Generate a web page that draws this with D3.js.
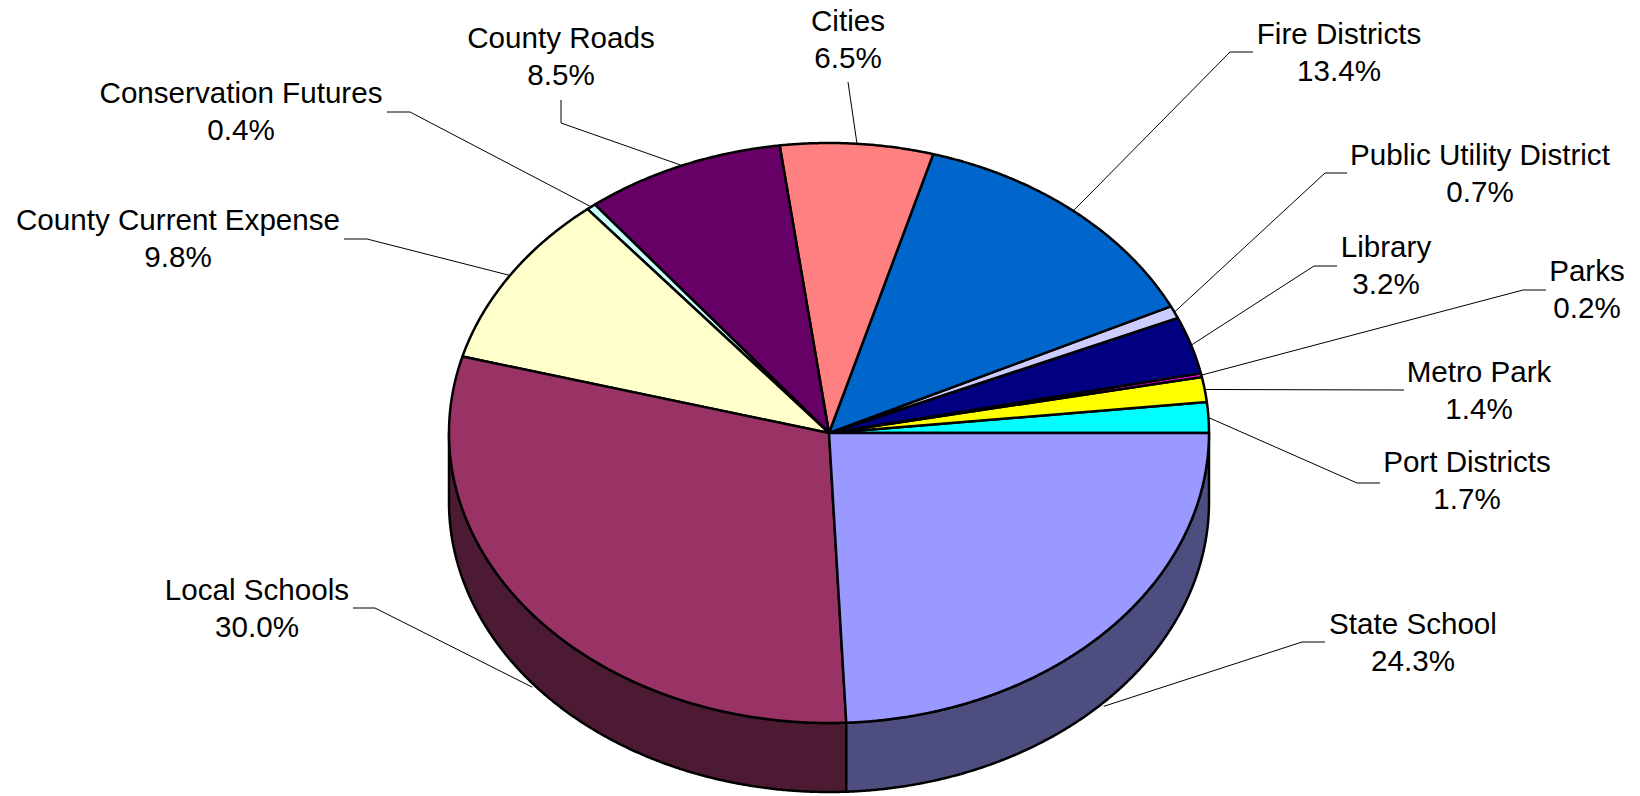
<!DOCTYPE html>
<html lang="en">
<head>
<meta charset="utf-8">
<title>Property tax distribution</title>
<script src="https://cdn.jsdelivr.net/npm/d3@7"></script>
<style>
  body { margin: 0; background: #fff; }
  text { font-family: "Liberation Sans", Arial, sans-serif; }
</style>
</head>
<body>
<script>
// slices, counter-clockwise from 3 o'clock
var categories = ["Port Districts", "Metro Park", "Parks", "Library", "Public Utility District",
                  "Fire Districts", "Cities", "County Roads", "Conservation Futures",
                  "County Current Expense", "Local Schools", "State School"];
var values = [1.7, 1.4, 0.2, 3.2, 0.7, 13.4, 6.5, 8.5, 0.4, 9.8, 30.0, 24.3];
var colors = ["#00ffff", "#ffff00", "#ff00ff", "#000080", "#ccccff", "#0066cc",
              "#ff8080", "#660066", "#ccffff", "#ffffcc", "#993366", "#9999ff"];

var width = 1640, height = 796;
var cx = 829, cy = 433, rx = 380, ry = 290, depth = 69;
var fontSize = 29.6, lineGap = 37;

// label text centre / first baseline and the elbow points of each leader
var labelPos = [
  {x: 1467, y: 472, leader: [[1380, 483], [1357, 483]]},
  {x: 1479, y: 382, leader: [[1404, 390]]},
  {x: 1587, y: 281, leader: [[1546, 290], [1523, 290]]},
  {x: 1386, y: 257, leader: [[1337, 266], [1314, 266]]},
  {x: 1480, y: 165, leader: [[1347, 173], [1325, 173]]},
  {x: 1339, y: 44,  leader: [[1253, 52], [1230, 52]]},
  {x: 848,  y: 31,  leader: [[848, 82]]},
  {x: 561,  y: 48,  leader: [[561, 100], [561, 123]]},
  {x: 241,  y: 103, leader: [[387, 112], [410, 112]]},
  {x: 178,  y: 230, leader: [[344, 239], [367, 239]]},
  {x: 257,  y: 600, leader: [[353, 608], [375, 608]]},
  {x: 1413, y: 634, leader: [[1325, 642], [1302, 642]]}
];

var svg = d3.select("body").append("svg")
    .attr("width", width)
    .attr("height", height);

var arcs = d3.pie().sort(null).startAngle(0).endAngle(2 * Math.PI)(values);

function pt(a, dz) {
  return [cx + rx * Math.cos(a), cy - ry * Math.sin(a) + (dz || 0)];
}
function arcPts(a0, a1, dz) {
  var n = Math.max(2, Math.ceil((a1 - a0) / 0.005));
  return d3.range(n + 1).map(function(i) { return pt(a0 + (a1 - a0) * i / n, dz); });
}
var line = d3.line();

// leader lines
svg.append("g").selectAll("path")
  .data(arcs)
  .enter().append("path")
  .attr("fill", "none")
  .attr("stroke", "#000")
  .attr("stroke-width", 1)
  .attr("d", function(d, i) {
    var mid = (d.startAngle + d.endAngle) / 2;
    var end = pt(mid, Math.sin(mid) < 0 ? depth + 4 : 0);
    return line(labelPos[i].leader.concat([end]));
  });

// visible side walls (front half)
var sides = arcs.map(function(d, i) { return {d: d, i: i}; })
  .filter(function(s) { return s.d.endAngle > Math.PI; });

svg.append("g").selectAll("path")
  .data(sides)
  .enter().append("path")
  .attr("fill", function(s) {
    var c = d3.rgb(colors[s.i]);
    return d3.rgb(c.r * 0.5, c.g * 0.5, c.b * 0.5);
  })
  .attr("stroke", "#000")
  .attr("stroke-width", 2.5)
  .attr("stroke-linejoin", "round")
  .attr("d", function(s) {
    var a0 = Math.max(s.d.startAngle, Math.PI), a1 = Math.min(s.d.endAngle, 2 * Math.PI);
    return line(arcPts(a0, a1, 0).concat(arcPts(a0, a1, depth).reverse())) + "Z";
  });

// top faces
svg.append("g").selectAll("path")
  .data(arcs)
  .enter().append("path")
  .attr("fill", function(d, i) { return colors[i]; })
  .attr("stroke", "#000")
  .attr("stroke-width", 2.5)
  .attr("stroke-linejoin", "round")
  .attr("d", function(d) {
    return line([[cx, cy]].concat(arcPts(d.startAngle, d.endAngle, 0))) + "Z";
  });

// labels
var labels = svg.append("g")
  .attr("font-size", fontSize)
  .attr("text-anchor", "middle")
  .selectAll("text")
  .data(categories)
  .enter().append("text")
  .attr("x", function(d, i) { return labelPos[i].x; })
  .attr("y", function(d, i) { return labelPos[i].y; });

labels.append("tspan")
  .attr("x", function(d, i) { return labelPos[i].x; })
  .text(function(d) { return d; });
labels.append("tspan")
  .attr("x", function(d, i) { return labelPos[i].x; })
  .attr("dy", lineGap)
  .text(function(d, i) { return values[i].toFixed(1) + "%"; });
</script>
</body>
</html>
